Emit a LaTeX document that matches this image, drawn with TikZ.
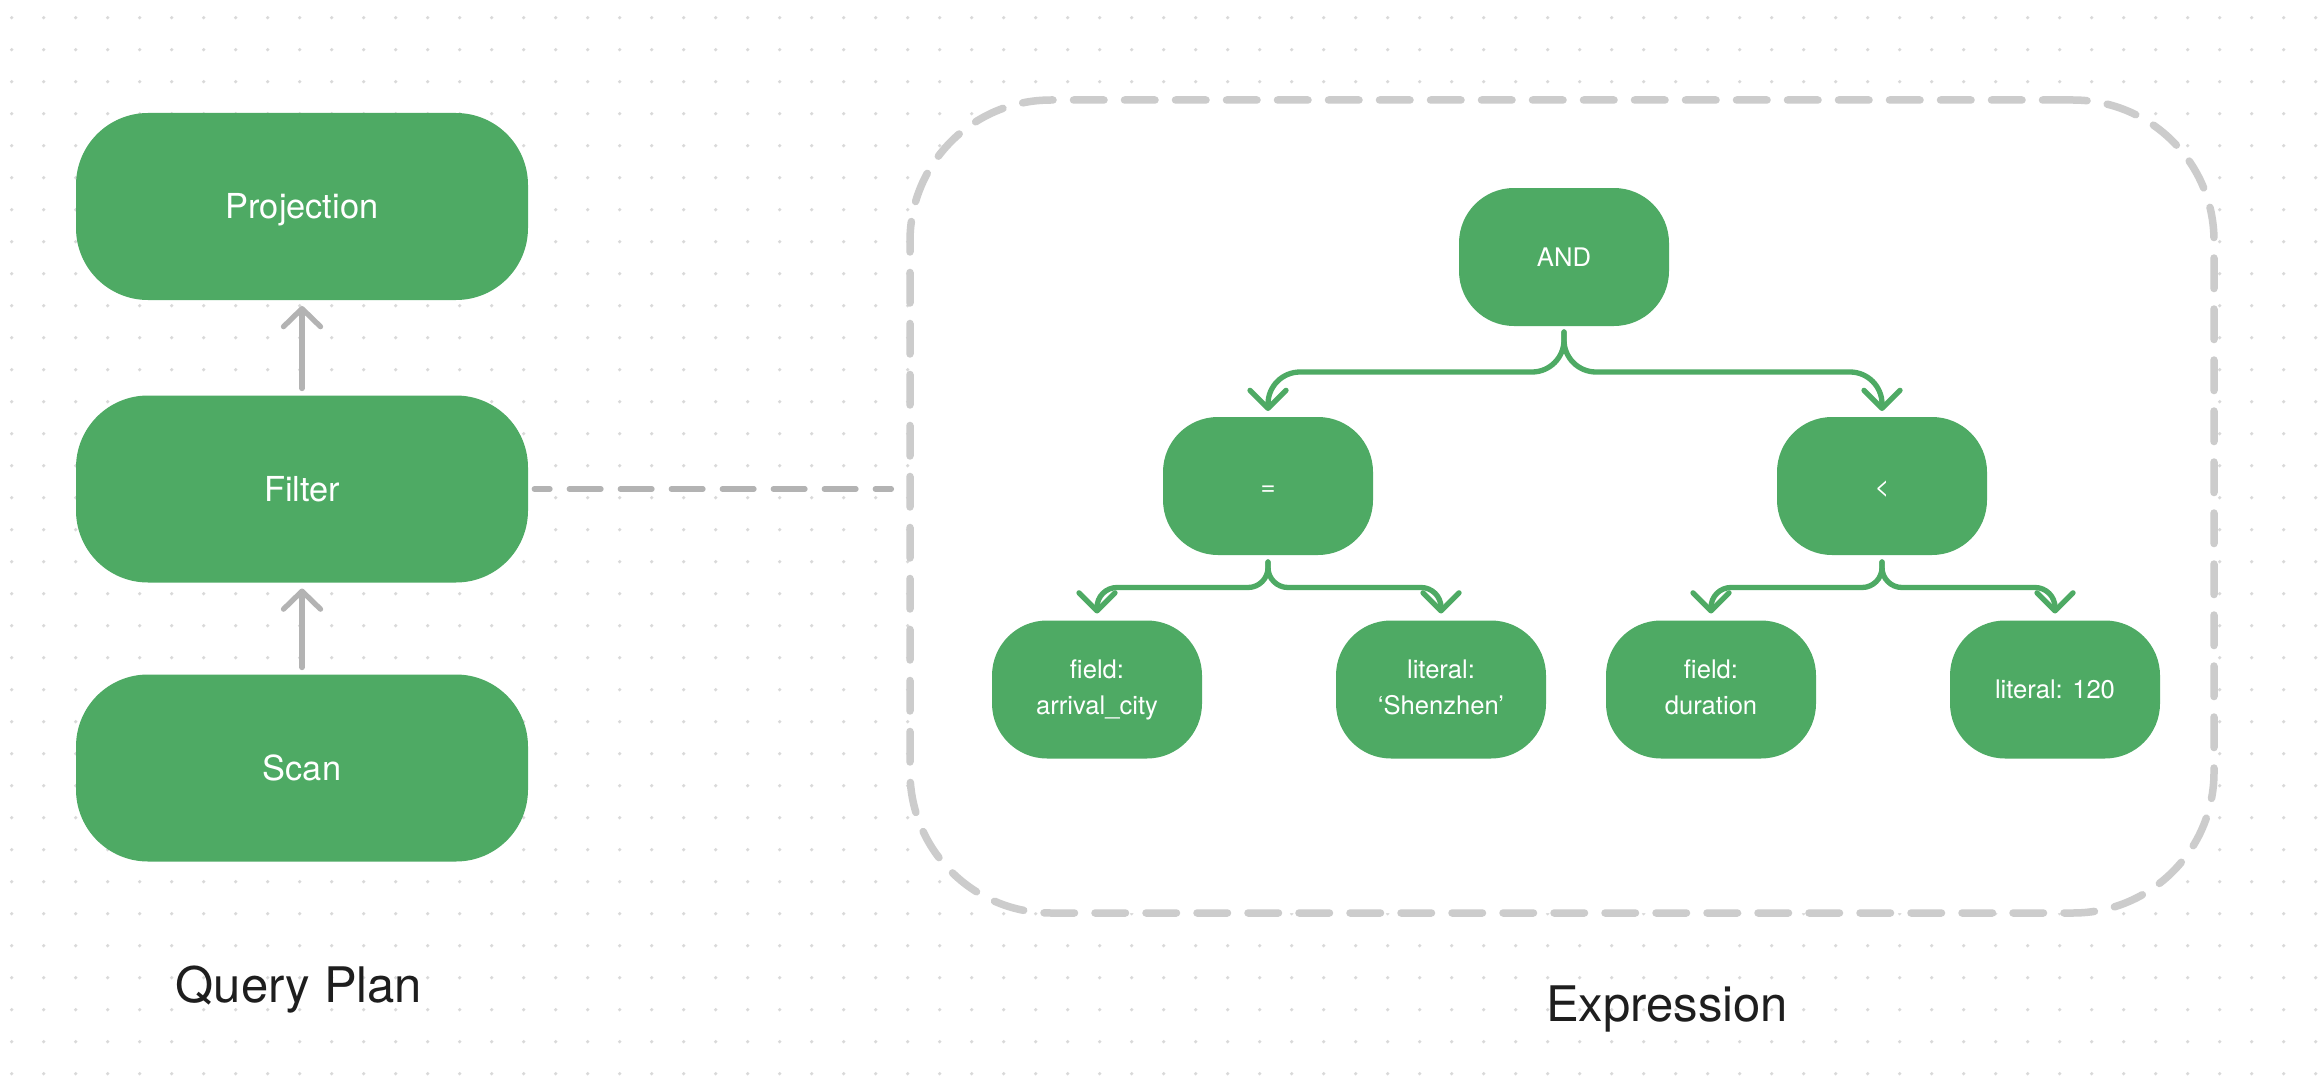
\documentclass[tikz,border=0pt]{standalone}
\usepackage{fontspec}
\setmainfont{TeX Gyre Heros}
\usetikzlibrary{arrows.meta,calc}
\definecolor{nodegreen}{HTML}{4EAA64}
\definecolor{arrowgray}{HTML}{B3B3B3}
\definecolor{boxgray}{HTML}{CCCCCC}
\definecolor{dotgray}{HTML}{D9D9D9}
\definecolor{labelblack}{HTML}{1E1E1E}
\begin{document}
\begin{tikzpicture}[x=0.5pt,y=-0.5pt,
  planbox/.style={rectangle, rounded corners=36pt, fill=nodegreen, minimum width=226pt,
    minimum height=93.5pt, inner sep=0pt, outer sep=0pt, text=white,
    font=\fontsize{17.2pt}{20pt}\selectfont, text height=12.3pt, text depth=0pt},
  exprnode/.style={rectangle, rounded corners=27.5pt, fill=nodegreen, minimum width=105pt,
    minimum height=69pt, inner sep=0pt, outer sep=0pt, text=white,
    font=\fontsize{12.8pt}{18pt}\selectfont},
  oneline/.style={text height=9.2pt, text depth=0pt},
  flowarrow/.style={draw=arrowgray, line width=2.65pt, line cap=round,
    -{Straight Barb[length=9pt,width=18.5pt,round]}},
  treearrow/.style={draw=nodegreen, line width=2.65pt, line cap=round,
    -{Straight Barb[length=9pt,width=18pt,round]}},
  linkdash/.style={draw=arrowgray, line width=2.65pt, line cap=round,
    dash pattern=on 15.85pt off 9.65pt, dash phase=8pt},
  container/.style={rectangle, rounded corners=70.5pt, draw=boxgray, fill=white,
    line width=3.75pt, line cap=round, dash pattern=on 15.25pt off 10.25pt,
    minimum width=652pt, minimum height=406.5pt, inner sep=0pt, outer sep=0pt},
  caption/.style={text=labelblack, font=\fontsize{24.5pt}{28pt}\selectfont,
    anchor=base, inner sep=0pt}
]
\useasboundingbox (0,0) rectangle (2324,1086);
\fill[white] (0,0) rectangle (2324,1086);
% dot grid
\foreach \i in {0,...,72}{
  \foreach \j in {0,...,33}{
    \fill[dotgray] (11.7+32*\i,17.7+32*\j) circle (0.9pt);
  }
}
% expression container
\node[container] (exprbox) at (1562,506.5) {};
% query plan nodes
\node[planbox] (proj) at (302,206.5) {Projection};
\node[planbox] (filt) at (302,489) {Filter};
\node[planbox] (scan) at (302,768) {Scan};
% plan arrows
\draw[flowarrow, shorten <=3.5pt, shorten >=3pt] (scan.north) -- (filt.south);
\draw[flowarrow, shorten <=3.5pt, shorten >=3pt] (filt.north) -- (proj.south);
% link to expression
\draw[linkdash, shorten <=3.15pt, shorten >=9.3pt] (filt.east) -- (filt.east -| exprbox.west);
% expression tree nodes
\node[exprnode, oneline] (and) at (1564,257) {AND};
\node[exprnode, oneline] (eq) at (1268,486) {=};
\node[exprnode, oneline] (lt) at (1882,486) {<};
\node[exprnode] (fa) at (1097,689.5) {\begin{tabular}{@{}c@{}}field:\\arrival\_city\end{tabular}};
\node[exprnode] (ls) at (1441,689.5) {\begin{tabular}{@{}c@{}}literal:\\‘Shenzhen’\end{tabular}};
\node[exprnode] (fd) at (1711,689.5) {\begin{tabular}{@{}c@{}}field:\\duration\end{tabular}};
\node[exprnode, oneline] (l120) at (2055,689.5) {literal: 120};
% tree connectors
\draw[treearrow, rounded corners=16pt] ($(and.south)+(0,6)$) |- ($(eq.north)+(0,-45)$) -- ($(eq.north)+(0,-6)$);
\draw[treearrow, rounded corners=16pt] ($(and.south)+(0,6)$) |- ($(lt.north)+(0,-45)$) -- ($(lt.north)+(0,-6)$);
\draw[treearrow, rounded corners=10pt] ($(eq.south)+(0,7)$) |- ($(fa.north)+(0,-33)$) -- ($(fa.north)+(0,-7)$);
\draw[treearrow, rounded corners=10pt] ($(eq.south)+(0,7)$) |- ($(ls.north)+(0,-33)$) -- ($(ls.north)+(0,-7)$);
\draw[treearrow, rounded corners=10pt] ($(lt.south)+(0,7)$) |- ($(fd.north)+(0,-33)$) -- ($(fd.north)+(0,-7)$);
\draw[treearrow, rounded corners=10pt] ($(lt.south)+(0,7)$) |- ($(l120.north)+(0,-33)$) -- ($(l120.north)+(0,-7)$);
% captions
\node[caption] (qplan) at (299,1002) {Query Plan};
\node[caption] (exprlabel) at (1667,1021) {Expression};
\end{tikzpicture}
\end{document}
